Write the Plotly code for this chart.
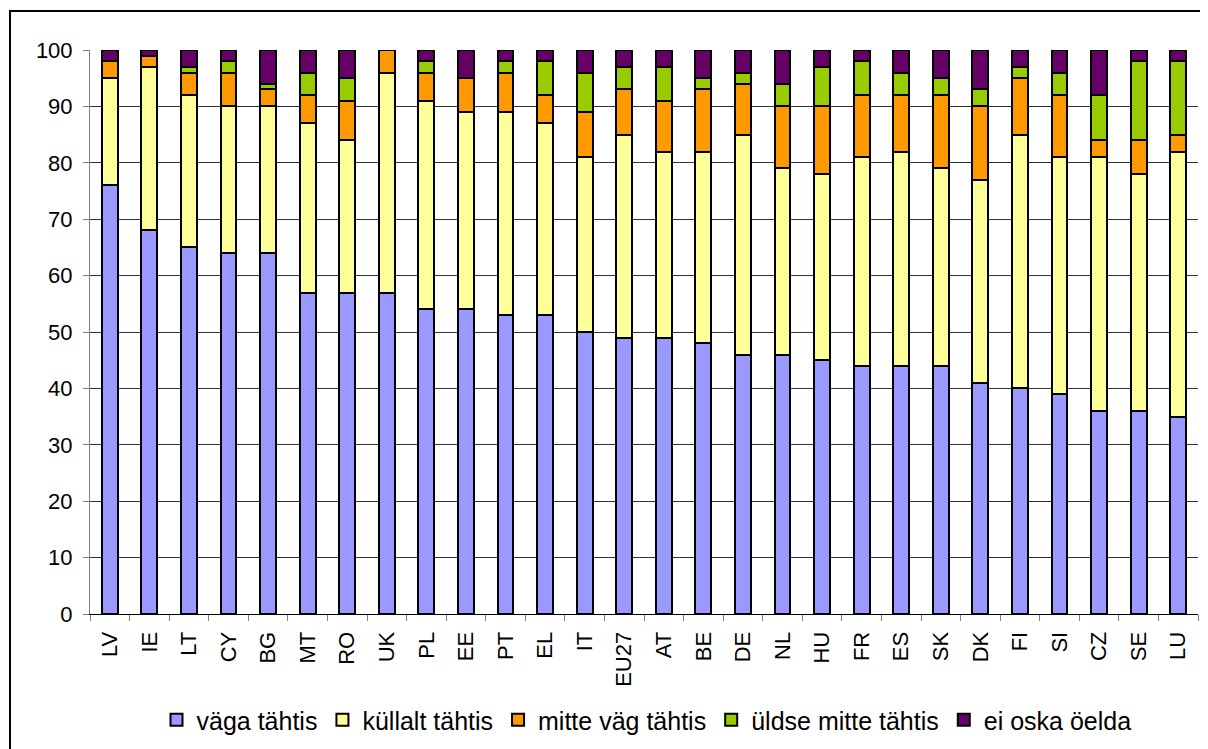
import plotly.graph_objects as go

categories = ["LV", "IE", "LT", "CY", "BG", "MT", "RO", "UK", "PL", "EE", "PT", "EL", "IT", "EU27",
              "AT", "BE", "DE", "NL", "HU", "FR", "ES", "SK", "DK", "FI", "SI", "CZ", "SE", "LU"]

vaga_tahtis = [76, 68, 65, 64, 64, 57, 57, 57, 54, 54, 53, 53, 50, 49,
               49, 48, 46, 46, 45, 44, 44, 44, 41, 40, 39, 36, 36, 35]
kullalt_tahtis = [19, 29, 27, 26, 26, 30, 27, 39, 37, 35, 36, 34, 31, 36,
                  33, 34, 39, 33, 33, 37, 38, 35, 36, 45, 42, 45, 42, 47]
mitte_vag_tahtis = [3, 2, 4, 6, 3, 5, 7, 4, 5, 6, 7, 5, 8, 8,
                    9, 11, 9, 11, 12, 11, 10, 13, 13, 10, 11, 3, 6, 3]
uldse_mitte_tahtis = [0, 0, 1, 2, 1, 4, 4, 0, 2, 0, 2, 6, 7, 4,
                      6, 2, 2, 4, 7, 6, 4, 3, 3, 2, 4, 8, 14, 13]
ei_oska_oelda = [2, 1, 3, 2, 6, 4, 5, 0, 2, 5, 2, 2, 4, 3,
                 3, 5, 4, 6, 3, 2, 4, 5, 7, 3, 4, 8, 2, 2]

series = [
    ("väga tähtis", vaga_tahtis, "#9999FF"),
    ("küllalt tähtis", kullalt_tahtis, "#FFFF99"),
    ("mitte väg tähtis", mitte_vag_tahtis, "#FF9900"),
    ("üldse mitte tähtis", uldse_mitte_tahtis, "#99CC00"),
    ("ei oska öelda", ei_oska_oelda, "#660066"),
]

fig = go.Figure()
for name, vals, color in series:
    fig.add_trace(go.Bar(
        x=categories, y=vals, name=name,
        marker=dict(color=color, line=dict(color="black", width=2)),
    ))

# page body has an 8px offset; compensate so the plot lands where the reference has it
OFF = 8
W, H = 1208 - OFF, 749 - OFF
ml, mr, mt, mb = 90 - OFF, 10, 50 - OFF, 135
pw, ph = W - ml - mr, H - mt - mb
bottom_px = H - mb  # y pixel (figure coords) of value 0

fig.update_layout(
    width=W, height=H,
    barmode="stack", bargap=0.6,
    margin=dict(l=ml, r=mr, t=mt, b=mb, autoexpand=False),
    paper_bgcolor="white", plot_bgcolor="white",
    font=dict(family="Liberation Sans, Arial, sans-serif", size=22, color="black"),
    showlegend=True,
    legend=dict(orientation="h", x=0.5 + 2.5 / pw, xanchor="center",
                y=-((720 - OFF) - bottom_px) / ph, yanchor="middle",
                font=dict(size=25), itemwidth=30, tracegroupgap=0, traceorder="normal"),
    xaxis=dict(type="category", tickangle=-90, showline=True, linecolor="black", linewidth=1,
               ticks="outside", tickson="boundaries", ticklen=6, tickcolor="#808080",
               showgrid=False, tickfont=dict(size=22), ticklabelstandoff=8),
    yaxis=dict(range=[0, 100], dtick=10, showline=True, linecolor="#808080", linewidth=1,
               ticks="outside", ticklen=6, tickcolor="#808080",
               showgrid=True, gridcolor="#333333", gridwidth=1, zeroline=False,
               tickfont=dict(size=22), ticklabelstandoff=6),
    shapes=[dict(type="rect", xref="paper", yref="paper",
                 x0=((10 - OFF) - ml) / pw, x1=(W + 20 - ml) / pw,
                 y0=-(H + 20 - bottom_px) / ph, y1=1 + (mt - (11 - OFF)) / ph,
                 line=dict(color="black", width=2), fillcolor="rgba(0,0,0,0)", layer="below")],
)

fig.write_html("out.html")
